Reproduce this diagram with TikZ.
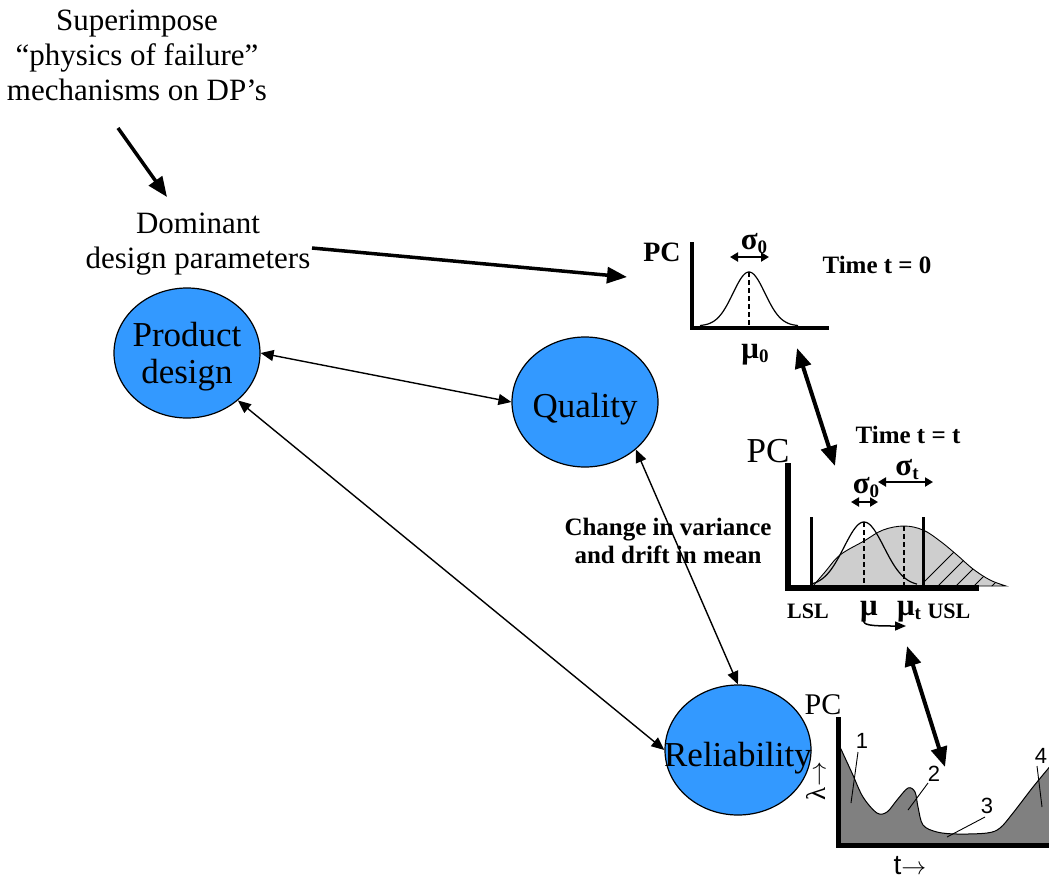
\documentclass[tikz,border=0pt]{standalone}
\usepackage{fontspec}
\setmainfont{Liberation Serif}
\newfontfamily\sansfont{Liberation Sans}
\usetikzlibrary{arrows.meta,shapes.geometric}
\definecolor{ellblue}{RGB}{51,153,255}
\definecolor{lightfill}{RGB}{206,206,206}
\definecolor{darkfill}{RGB}{128,128,128}
\newcommand\fs[1]{\fontsize{#1}{#1}\selectfont}
\newcommand\lowsub[1]{\raisebox{-0.35ex}{\fs{19}#1}}
\newcommand\bigsym[1]{{\fs{31}#1}}

\begin{document}
\begin{tikzpicture}[x=1pt,y=-1pt,
  declare function={bell(\u)=exp(-0.5*(\u)*(\u));},
  bubble/.style={ellipse, draw, line width=1.2pt, fill=ellblue,
    minimum width=146pt, minimum height=130pt, inner sep=0pt},
  bubbletext/.style={align=center, inner sep=0pt, font=\fontsize{35}{37}\selectfont},
  note/.style={align=center, inner sep=0pt, font=\fontsize{31}{35}\selectfont},
  lbl/.style={inner sep=0pt, font=\bfseries\fs{25}},
  smalllbl/.style={inner sep=0pt, font=\bfseries\fs{22}},
  num/.style={inner sep=0pt, font=\sansfont\fs{22}},
  link/.style={line width=1.4pt,
    {Triangle[length=13pt,width=11pt]}-{Triangle[length=13pt,width=11pt]}},
  bigarrow/.style={line width=3.5pt, -{Triangle[length=20pt,width=16pt]}},
  bigdouble/.style={line width=4pt,
    {Triangle[length=20pt,width=16pt]}-{Triangle[length=20pt,width=16pt]}},
  spread/.style={line width=2pt,
    {Triangle[length=8pt,width=9pt]}-{Triangle[length=8pt,width=9pt]}},
  meanline/.style={line width=1.2pt, dash pattern=on 5pt off 3pt},
]
\useasboundingbox (0,0) rectangle (1049,879);
\clip (0,0) rectangle (1049,879);

% ---------- text on the left ----------
\node[note] (sup) at (137,55) {Superimpose\\“physics of failure”\\mechanisms on DP’s};
\node[note] (dom) at (198,244) {Dominant\\design parameters};
\coordinate (supout) at (118,128);
\coordinate (domin) at (167,197);
\draw[bigarrow] (supout) -- (domin);

% ---------- the three bubbles ----------
\node[bubble] (pd) at (187,353) {};
\node[bubble] (q) at (585,402) {};
\node[bubble] (rel) at (738,750) {};
\node[bubbletext] (pdt) at (pd) [yshift=-4pt] {Product\\design};
\node[bubbletext] (qt) at (q) [yshift=-7pt] {Quality};
\node[bubbletext] (relt) at (rel) [yshift=-8pt] {Reliability};

\node[lbl, align=center, font=\bfseries\fontsize{25}{28}\selectfont] (chg) at (668,541)
  {Change in variance\\and drift in mean};

\draw[link] (pd.0) -- (q.180);
\draw[link] (pd.-43) -- (rel.180);
\draw[link] (q.-43) -- (rel.90);

% ---------- chart at time 0 ----------
\coordinate (dpout) at (312,248);
\coordinate (pc0in) at (627,277);
\draw[bigarrow] (dpout) -- (pc0in);

\draw[line width=1.2pt] plot[domain=700:798, samples=80]
  (\x,{326-54*bell((\x-749)/16)});
\draw[meanline] (749,272) -- (749,326);
\draw[line width=4pt] (692,242) -- (692,328) -- (829,328);
\node[lbl, font=\bfseries\fs{28}] (pc0) at (662,252) {PC};
\node[lbl] (s0a) at (754,244) {\bigsym{σ}\lowsub{0}};
\draw[spread] (730,257) -- (769,257);
\node[lbl] (mu0) at (755,355) {\bigsym{μ}\lowsub{0}};
\node[lbl] (t0) at (877,265) {Time t = 0};

% ---------- chart at time t ----------
\coordinate (c0low) at (797,348);
\coordinate (ctup) at (835,466);
\draw[bigdouble] (c0low) -- (ctup);

\def\widecurve{(813,586) (825,572) (840,555) (864,541) (883,530) (904,526)
  (923,530) (940,541) (957,555) (973,569) (990,580) (1006,586)}
\fill[lightfill] plot[smooth, tension=0.6] coordinates {\widecurve} -- cycle;
\begin{scope}
  \clip (924,500) rectangle (1010,588);
  \clip plot[smooth, tension=0.6] coordinates {\widecurve} -- cycle;
  \foreach \k in {0,...,6}
    \draw[line width=0.8pt] ({906+\k*18},600) -- ++(90,-90);
\end{scope}
\draw[line width=0.9pt] plot[smooth, tension=0.6] coordinates {\widecurve} -- cycle;
\draw[line width=1.2pt] plot[domain=813:917, samples=80]
  (\x,{586-64*bell((\x-864)/20)});
\draw[meanline] (864,522) -- (864,586);
\draw[meanline] (904,526) -- (904,586);
\draw[line width=3pt] (811,517) -- (811,588);
\draw[line width=3pt] (923,517) -- (923,588);
\draw[line width=6pt] (788,463) -- (788,588) -- (979,588);

\node[inner sep=0pt, font=\fs{35}] (pct) at (768,451) {PC};
\node[lbl] (tt) at (908,435) {Time t = t};
\node[lbl] (s0b) at (866,488) {\bigsym{σ}\lowsub{0}};
\draw[spread] (851,502) -- (878,502);
\node[lbl] (st) at (907,470) {\bigsym{σ}\lowsub{t}};
\draw[spread] (878,482) -- (933,482);
\node[smalllbl] (lsl) at (808,611) {LSL};
\node[lbl] (mu) at (869,612) {\bigsym{μ}};
\node[lbl] (mut) at (909,612) {\bigsym{μ}\lowsub{t}};
\node[smalllbl] (usl) at (949,611) {USL};
\draw[line width=1.5pt, -{Triangle[length=11pt,width=9pt]}]
  (863,620) .. controls (864,625) and (868,626) .. (906,626);

% ---------- bathtub chart ----------
\coordinate (ctlow) at (907,646);
\coordinate (bathup) at (945,767);
\draw[bigdouble] (ctlow) -- (bathup);

\filldraw[fill=darkfill, draw=black, line width=1pt]
  plot[smooth, tension=0.55] coordinates {(840,747) (852,773) (863,797) (877,813)
    (887,812) (897,800) (908,788) (915,792) (918,807) (923,825) (937,832)
    (957,834) (987,833) (1000,828) (1013,813) (1033,787) (1052,764)}
  -- (1052,845) -- (840,845) -- cycle;
\draw[line width=5pt] (838,717) -- (838,845) -- (1052,845);

\draw[line width=0.9pt] (858,752) -- (851,803);
\draw[line width=0.9pt] (928,783) -- (908,810);
\draw[line width=0.9pt] (985,817) -- (947,837);
\draw[line width=0.9pt] (1037,766) -- (1042,807);
\node[num] (n1) at (862,741) {1};
\node[num] (n2) at (934,774) {2};
\node[num] (n3) at (987,806) {3};
\node[num] (n4) at (1041,756) {4};

\node[inner sep=0pt, font=\fs{30}] (pcb) at (823,705) {PC};
\node[inner sep=0pt, font=\fs{27}, rotate=90] (lam) at (816,781) {λ$\rightarrow$};
\node[inner sep=0pt, font=\sansfont\fs{28}] (tax) at (910,866) {t$\rightarrow$};
\end{tikzpicture}
\end{document}
